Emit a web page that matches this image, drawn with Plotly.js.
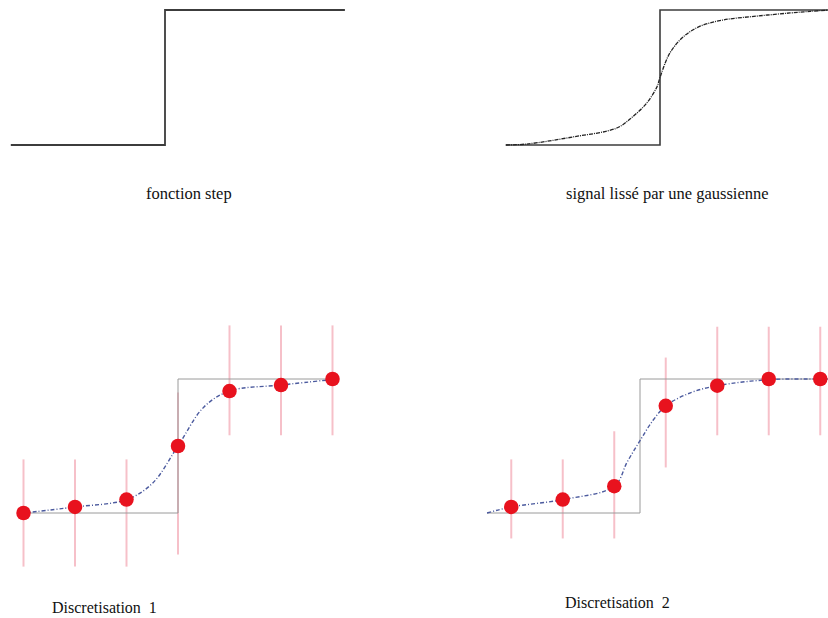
<!DOCTYPE html>
<html><head><meta charset="utf-8">
<script src="https://cdn.plot.ly/plotly-3.0.1.min.js"></script>
<style>html,body{margin:0;padding:0;background:#fff}#c{width:828px;height:618px}</style>
</head><body><div id="c"></div>
<script>
// ---- data (logical units: x = sample index relative to the step, y = signal level 0..1) ----
// top-left: ideal step
const stepX = [-3, 0, 0, 3.5];
const stepY = [0, 0, 1, 1];
// top-right: step + gaussian-smoothed signal
const stepX2 = [-3, 0, 0, 3.6];
const stepY2 = [0, 0, 1, 1];
const smoothX = [-3.0, -2.6, -1.69, -0.84, -0.53, -0.26, -0.06, 0, 0.19, 0.45, 0.78, 1.23, 1.89, 2.53, 2.92, 3.3];
const smoothY = [0, 0.007, 0.06, 0.126, 0.21, 0.31, 0.43, 0.5, 0.68, 0.8, 0.88, 0.926, 0.955, 0.978, 0.99, 1.0];
// bottom-left: discretisation 1
const rect1X = [-3, 0, 0, 3.1];
const rect1Y = [0, 0, 1, 1];
const samp1X = [-3, -2, -1, 0, 1, 2, 3];
const samp1Y = [0, 0.045, 0.1, 0.5, 0.91, 0.955, 1.0];
const pulse1Lo = [-0.4, -0.4, -0.4, -0.31, 0.58, 0.58, 0.58];
const pulse1Hi = [0.4, 0.4, 0.4, 0.9, 1.4, 1.4, 1.4];
const curve1X = [-3, -2, -1, -0.5, 0, 0.5, 1, 2, 3.1];
const curve1Y = [0, 0.045, 0.1, 0.22, 0.5, 0.79, 0.91, 0.955, 1.0];
// bottom-right: discretisation 2
const rect2X = [-2.97, 0, 0, 3.7];
const rect2Y = [0, 0, 1, 1];
const samp2X = [-2.5, -1.5, -0.5, 0.5, 1.5, 2.5, 3.5];
const samp2Y = [0.045, 0.1, 0.2, 0.8, 0.95, 1.0, 1.0];
const pulse2Lo = [-0.19, -0.19, -0.19, 0.34, 0.58, 0.58, 0.58];
const pulse2Hi = [0.4, 0.4, 0.61, 1.16, 1.39, 1.39, 1.39];
const curve2X = [-2.97, -2.5, -1.5, -0.5, -0.25, 0, 0.25, 0.5, 1, 1.5, 2.5, 3.5, 3.7];
const curve2Y = [0, 0.045, 0.1, 0.2, 0.38, 0.54, 0.69, 0.8, 0.9, 0.95, 0.995, 1.0, 1.0];
// labels
const labels = ["fonction step", "signal lissé par une gaussienne", "Discretisation&nbsp; 1", "Discretisation&nbsp; 2"];

// ---- build ----
function segs(xs, lo, hi) {
  const x = [], y = [];
  xs.forEach((v, i) => { x.push(v, v, null); y.push(lo[i], hi[i], null); });
  return {x, y};
}
const W = 828, H = 618;
const dark = '#3c3c3c';
const traces = [];
// top-left
traces.push({x: stepX, y: stepY, xaxis: 'x', yaxis: 'y', mode: 'lines', line: {color: dark, width: 1.8}, hoverinfo: 'skip'});
// top-right
traces.push({x: stepX2, y: stepY2, xaxis: 'x2', yaxis: 'y2', mode: 'lines', line: {color: dark, width: 1.6}, hoverinfo: 'skip'});
traces.push({x: smoothX, y: smoothY, xaxis: 'x2', yaxis: 'y2', mode: 'lines', line: {color: '#222', width: 1.3, shape: 'spline', dash: '4px,1px,1px,1px'}, hoverinfo: 'skip'});
// bottom panels
const pink = 'rgba(240,150,165,0.6)';
[[rect1X, rect1Y, samp1X, samp1Y, pulse1Lo, pulse1Hi, curve1X, curve1Y, 'x3', 'y3'],
 [rect2X, rect2Y, samp2X, samp2Y, pulse2Lo, pulse2Hi, curve2X, curve2Y, 'x4', 'y4']].forEach(p => {
  const [rx, ry, sx, sy, lo, hi, cx, cy, xa, ya] = p;
  const s = segs(sx, lo, hi);
  traces.push({x: s.x, y: s.y, xaxis: xa, yaxis: ya, mode: 'lines', line: {color: pink, width: 2}, hoverinfo: 'skip'});
  traces.push({x: rx, y: ry, xaxis: xa, yaxis: ya, mode: 'lines', line: {color: '#9a9a9a', width: 1}, hoverinfo: 'skip'});
  traces.push({x: cx, y: cy, xaxis: xa, yaxis: ya, mode: 'lines', line: {color: '#4b5a9e', width: 1.4, shape: 'spline', dash: '4px,2px,1px,2px'}, hoverinfo: 'skip'});
  traces.push({x: sx, y: sy, xaxis: xa, yaxis: ya, mode: 'markers', marker: {color: '#e8121e', size: 14.5, line: {width: 0}}, cliponaxis: false, hoverinfo: 'skip'});
});

function ax(px0, px1, x0, sx) { return {domain: [px0 / W, px1 / W], range: [(px0 - x0) / sx, (px1 - x0) / sx]}; }
function ay(py0, py1, y0, sy) { return {domain: [1 - py1 / H, 1 - py0 / H], range: [(y0 - py1) / sy, (y0 - py0) / sy]}; }
const hid = {visible: false, showgrid: false, zeroline: false, fixedrange: true};
const fnt = s => ({family: 'Liberation Serif, serif', size: s, color: '#111'});
const layout = {
  width: W, height: H, margin: {l: 0, r: 0, t: 0, b: 0},
  paper_bgcolor: '#fff', plot_bgcolor: 'rgba(0,0,0,0)', showlegend: false,
  xaxis: Object.assign({}, hid, ax(0, 370, 165, 51.4), {anchor: 'y'}),
  yaxis: Object.assign({}, hid, ay(0, 165, 145, 135), {anchor: 'x'}),
  xaxis2: Object.assign({}, hid, ax(470, 828, 660, 51.4), {anchor: 'y2'}),
  yaxis2: Object.assign({}, hid, ay(0, 165, 145, 135), {anchor: 'x2'}),
  xaxis3: Object.assign({}, hid, ax(0, 420, 178, 51.5), {anchor: 'y3'}),
  yaxis3: Object.assign({}, hid, ay(300, 595, 513, 134), {anchor: 'x3'}),
  xaxis4: Object.assign({}, hid, ax(440, 828, 640, 51.5), {anchor: 'y4'}),
  yaxis4: Object.assign({}, hid, ay(300, 595, 513, 134), {anchor: 'x4'}),
  annotations: [
    {text: labels[0], x: 189 / W, y: 1 - 193 / H, xref: 'paper', yref: 'paper', showarrow: false, xanchor: 'center', yanchor: 'middle', font: fnt(16.5)},
    {text: labels[1], x: 667 / W, y: 1 - 193 / H, xref: 'paper', yref: 'paper', showarrow: false, xanchor: 'center', yanchor: 'middle', font: fnt(16.5)},
    {text: labels[2], x: 50 / W, y: 1 - 607 / H, xref: 'paper', yref: 'paper', showarrow: false, xanchor: 'left', yanchor: 'middle', font: fnt(16)},
    {text: labels[3], x: 563 / W, y: 1 - 602 / H, xref: 'paper', yref: 'paper', showarrow: false, xanchor: 'left', yanchor: 'middle', font: fnt(16)}
  ]
};
Plotly.newPlot('c', traces, layout, {staticPlot: true, displayModeBar: false});
</script></body></html>
